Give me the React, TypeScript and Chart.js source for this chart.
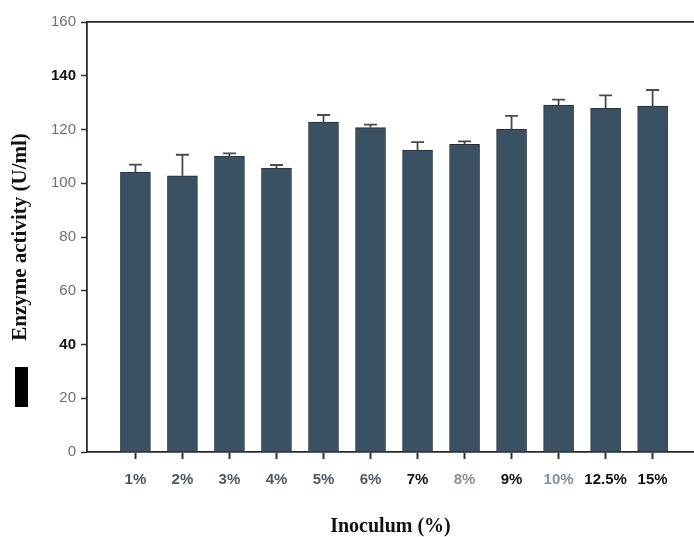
import React, { useEffect, useRef } from "react";
import { Chart, registerables } from "chart.js";

Chart.register(...registerables);

// Inoculum levels tested
const categories = ["1%", "2%", "3%", "4%", "5%", "6%", "7%", "8%", "9%", "10%", "12.5%", "15%"];
// Mean enzyme activity (U/ml)
const activity = [104.2, 102.8, 110.1, 105.6, 122.8, 120.7, 112.3, 114.5, 120.1, 129.1, 127.9, 128.7];
// Standard deviation (upper error bar)
const errors = [2.7, 7.8, 1.0, 1.2, 2.6, 1.1, 3.0, 1.1, 5.0, 2.0, 4.8, 6.0];
// Y-axis tick values
const yTicks = [0, 20, 40, 60, 80, 100, 120, 140, 160];

// Label colours for the category axis
const xLabelColors = ["#4d5964", "#4d5964", "#4d5964", "#4d5964", "#4d5964", "#4d5964", "#111111", "#8a9199", "#111111", "#8390a0", "#111111", "#111111"];
const yDarkTicks = [140, 40];

const errorBarPlugin = {
  id: "errorBars",
  afterDatasetsDraw(chart: any) {
    const { ctx } = chart;
    const yScale = chart.scales.y;
    const meta = chart.getDatasetMeta(0);
    ctx.save();
    ctx.strokeStyle = "#4a4a4a";
    ctx.lineWidth = 1.8;
    meta.data.forEach((bar: any, i: number) => {
      const yBase = yScale.getPixelForValue(activity[i]);
      const yTop = yScale.getPixelForValue(activity[i] + errors[i]);
      ctx.beginPath();
      ctx.moveTo(bar.x, yBase);
      ctx.lineTo(bar.x, yTop);
      ctx.moveTo(bar.x - 6.5, yTop);
      ctx.lineTo(bar.x + 6.5, yTop);
      ctx.stroke();
    });
    ctx.restore();
  },
};

export default function App() {
  const canvasRef = useRef<HTMLCanvasElement | null>(null);

  useEffect(() => {
    if (!canvasRef.current) return;
    const chart = new Chart(canvasRef.current, {
      type: "bar",
      data: {
        datasets: [
          {
            data: categories.map((_, i) => ({ x: i + 1, y: activity[i] })),
            backgroundColor: "#3a5063",
            borderColor: "#243340",
            borderWidth: 1,
            barThickness: 30,
          },
        ],
      },
      options: {
        animation: false,
        responsive: false,
        maintainAspectRatio: false,
        layout: { padding: { top: 22, right: 0, bottom: 0, left: 0 } },
        plugins: { legend: { display: false }, tooltip: { enabled: false } },
        scales: {
          x: {
            type: "linear",
            position: "bottom",
            offset: false,
            min: -0.03,
            max: 12.88,
            afterBuildTicks: (scale: any) => {
              scale.ticks = categories.map((_, i) => ({ value: i + 1 }));
            },
            afterFit: (scale: any) => {
              scale.height = 85;
            },
            ticks: {
              autoSkip: false,
              maxRotation: 0,
              padding: 12,
              callback: (v: any) => categories[Number(v) - 1] ?? "",
              color: (c: any) => xLabelColors[c.index] ?? "#333",
              font: { family: "Liberation Sans, Arial, sans-serif", size: 15, weight: "bold" },
            },
            grid: {
              display: true,
              offset: false,
              drawOnChartArea: false,
              drawTicks: true,
              tickLength: 7,
              color: "#333333",
              tickColor: "#333333",
              tickWidth: 2,
            },
            border: { display: true, color: "#2a2a2a", width: 1.8 },
            title: {
              display: true,
              text: "Inoculum (%)",
              color: "#111111",
              padding: { top: 0, bottom: 0 },
              font: { family: "Liberation Serif, Times New Roman, serif", size: 20, weight: "bold", lineHeight: 1 },
            },
          },
          xTop: {
            type: "linear",
            position: "top",
            min: 0,
            max: 1,
            afterFit: (scale: any) => {
              scale.height = 0;
            },
            ticks: { display: false },
            grid: { display: false },
            border: { display: true, color: "#2a2a2a", width: 1.8 },
          },
          y: {
            min: 0,
            max: 160,
            afterBuildTicks: (scale: any) => {
              scale.ticks = yTicks.map((v) => ({ value: v }));
            },
            afterFit: (scale: any) => {
              scale.width = 87;
            },
            ticks: {
              padding: 5,
              color: (c: any) => (yDarkTicks.includes(c.tick?.value) ? "#111111" : "#6b727a"),
              font: (c: any) => ({
                family: "Liberation Sans, Arial, sans-serif",
                size: 15,
                weight: yDarkTicks.includes(c.tick?.value) ? "bold" : "normal",
              }),
            },
            grid: {
              display: true,
              drawOnChartArea: false,
              drawTicks: true,
              tickLength: 6,
              color: "#333333",
              tickColor: "#333333",
              tickWidth: 1.5,
            },
            border: { display: true, color: "#2a2a2a", width: 1.8 },
            title: {
              display: true,
              text: "Enzyme activity (U/ml)",
              color: "#111111",
              padding: { top: 8, bottom: 0 },
              font: { family: "Liberation Serif, Times New Roman, serif", size: 21, weight: "bold" },
            },
          },
        },
      },
      plugins: [errorBarPlugin],
    } as any);
    return () => chart.destroy();
  }, []);

  return (
    <div style={{ position: "fixed", left: 0, top: 0, width: 694, height: 537, background: "#ffffff", overflow: "hidden" }}>
      <canvas ref={canvasRef} width={694} height={537} style={{ display: "block", width: 694, height: 537 }} />
      <div style={{ position: "absolute", left: 15, top: 367, width: 13, height: 40, background: "#000000" }} />
    </div>
  );
}
